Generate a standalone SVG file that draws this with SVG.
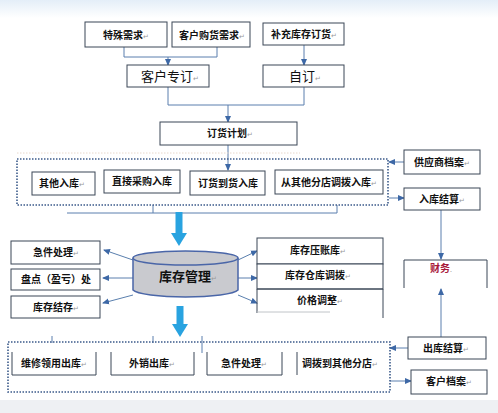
<svg xmlns="http://www.w3.org/2000/svg" width="498" height="413" viewBox="0 0 498 413">
<defs>
<style>
.box{fill:#fff;stroke:#3b4656;stroke-width:1}
.open{fill:none;stroke:#3b4656;stroke-width:1}
.t{font-family:"Noto Sans CJK SC","Noto Sans",sans-serif;font-size:10px;font-weight:bold;fill:#111;text-anchor:middle}
.big{font-size:13px;font-weight:normal}
.pm{fill:#9a9a9a;font-weight:normal;font-size:7px}
.ln{stroke:#5a7fae;fill:none;stroke-width:1}
.dot{stroke:#3b5a8a;stroke-dasharray:1.5 1.5;fill:none;stroke-width:1.6}
.thick{stroke:#29a3e0;stroke-width:7;fill:none}
</style>
<marker id="ah" markerWidth="7" markerHeight="7" refX="6" refY="3.5" orient="auto" markerUnits="userSpaceOnUse">
<path d="M0,0.5 L7,3.5 L0,6.5 Z" fill="#3d68a6"/>
</marker>
<linearGradient id="topbg" x1="0" y1="0" x2="0" y2="1">
<stop offset="0" stop-color="#e4eef8"/><stop offset="1" stop-color="#ffffff"/>
</linearGradient>
</defs>
<rect x="0" y="0" width="498" height="413" fill="#fff"/>
<rect x="0" y="0" width="498" height="18" fill="url(#topbg)"/>
<rect x="0" y="400" width="498" height="13" fill="#eef0f3"/>

<g id="connectors">
<path class="ln" d="M124,47 V57 H217 V47"/>
<path class="ln" d="M168,57 V65" marker-end="url(#ah)"/>
<path class="ln" d="M304,45 V65" marker-end="url(#ah)"/>
<path class="ln" d="M168,87 V105 H304 V87"/>
<path class="ln" d="M228,105 V122" marker-end="url(#ah)"/>
<path class="ln" d="M228,145 V170" marker-end="url(#ah)"/>
<path class="ln" d="M153,205 V213 M67,213 H337 M337,205 V213" stroke="#7a8a9a"/>
<path class="thick" d="M179,212 V234"/>
<path d="M171,233 L187,233 L179,246 Z" fill="#29a3e0"/>
<path class="thick" d="M180,306 V325"/>
<path d="M172,324 L188,324 L180,337 Z" fill="#29a3e0"/>
<path class="ln" d="M133,260 L104,250" marker-end="url(#ah)"/>
<path class="ln" d="M133,278 H103" marker-end="url(#ah)"/>
<path class="ln" d="M133,295 L103,303" marker-end="url(#ah)"/>
<path class="ln" d="M238,260 L257,251" marker-end="url(#ah)"/>
<path class="ln" d="M238,278 H257" marker-end="url(#ah)"/>
<path class="ln" d="M238,295 L257,303" marker-end="url(#ah)"/>
<path class="ln" d="M404,162 H389" marker-end="url(#ah)"/>
<path class="ln" d="M389,198 H404" marker-end="url(#ah)"/>
<path class="ln" d="M441,210 V259" stroke="#8a9aaa" marker-end="url(#ah)"/>
<path class="ln" d="M441,337 V289" stroke="#8a9aaa" marker-end="url(#ah)"/>
<path class="ln" d="M408,348 H390" marker-end="url(#ah)"/>
<path class="ln" d="M390,381 H411" marker-end="url(#ah)"/>
<path class="ln" d="M52,336 V343 M153,336 V343 M202,336 V353" stroke="#3b4656"/>
</g>

<g id="top-boxes">
<g id="n-teshu"><rect class="box" x="85" y="22" width="82" height="25"/><text class="t" x="126" y="39">特殊需求<tspan class="pm">↵</tspan></text></g>
<g id="n-kehugouhuo"><rect class="box" x="172" y="22" width="78" height="25"/><text class="t" x="212" y="39">客户购货需求<tspan class="pm">↵</tspan></text></g>
<g id="n-buchong"><rect class="box" x="263" y="23" width="81" height="22"/><text class="t" x="304" y="38">补充库存订货<tspan class="pm">↵</tspan></text></g>
<g id="n-kehuzhuanding"><rect class="box" x="127" y="65" width="82" height="22"/><text class="t big" x="170" y="81">客户专订<tspan class="pm">↵</tspan></text></g>
<g id="n-ziding"><rect class="box" x="263" y="65" width="81" height="22"/><text class="t big" x="305" y="81">自订<tspan class="pm">↵</tspan></text></g>
<g id="n-dinghuojihua"><rect class="box" x="160" y="122" width="137" height="23"/><text class="t" x="230" y="137">订货计划<tspan class="pm">↵</tspan></text></g>
</g>

<g id="inbound">
<path d="M17,153 H300" stroke="#e8d8cc" stroke-dasharray="1.5 1.5" fill="none"/>
<rect class="dot" x="17" y="159" width="371" height="46"/>
<g id="n-qitaruku"><rect class="box" x="32" y="172" width="63" height="23"/><text class="t" x="62" y="187">其他入库<tspan class="pm">↵</tspan></text></g>
<g id="n-zhijiecaigou"><rect class="box" x="104" y="170" width="76" height="23"/><text class="t" x="142" y="185">直接采购入库</text></g>
<g id="n-dinghuodaohuo"><rect class="box" x="190" y="171" width="75" height="24"/><text class="t" x="228" y="187">订货到货入库</text></g>
<g id="n-congqita"><rect class="box" x="275" y="170" width="108" height="24"/><text class="t" x="329" y="186">从其他分店调拨入库<tspan class="pm">↵</tspan></text></g>
</g>

<g id="n-gongyingshang"><rect class="box" x="404" y="150" width="76" height="24"/><text class="t" x="442" y="166">供应商档案<tspan class="pm">↵</tspan></text></g>
<g id="n-rukujiesuan"><rect class="box" x="404" y="188" width="76" height="22"/><text class="t" x="442" y="203">入库结算<tspan class="pm">↵</tspan></text></g>

<g id="n-kucunguanli">
<path d="M133,258 V290 A53,8 0 0 0 238,290 V258" fill="#c9cacf" stroke="#4a66a8" stroke-width="1.5"/>
<ellipse cx="185.5" cy="258" rx="52.5" ry="7" fill="#c9cacf" stroke="#4a66a8" stroke-width="1.5"/>
<text class="t" x="188" y="281" style="font-size:13px">库存管理<tspan class="pm">↵</tspan></text>
</g>

<g id="left-boxes">
<g id="n-jijian1"><rect class="box" x="11" y="241" width="89" height="23"/><text class="t" x="56" y="256">急件处理<tspan class="pm">↵</tspan></text></g>
<g id="n-pandian"><rect class="box" x="11" y="269" width="89" height="21"/><text class="t" x="56" y="283">盘点（盈亏）处</text></g>
<g id="n-kucunjiecun"><rect class="box" x="11" y="296" width="89" height="22"/><text class="t" x="56" y="311">库存结存<tspan class="pm">↵</tspan></text></g>
</g>

<g id="right-boxes">
<g id="n-yazhangku"><rect class="box" x="257" y="238" width="126" height="26"/><text class="t" x="318" y="254">库存压账库<tspan class="pm">↵</tspan></text></g>
<g id="n-cangkudiaobo"><rect class="box" x="257" y="264" width="126" height="25"/><text class="t" x="318" y="279">库存仓库调拨<tspan class="pm">↵</tspan></text></g>
<g id="n-jiagetiaozheng"><path class="open" d="M257,289 H383 M257,289 V313 M383,289 V318"/><path d="M257,312 H330" stroke="#c0c4c8" fill="none"/><text class="t" x="320" y="304">价格调整<tspan class="pm">↵</tspan></text></g>
</g>

<g id="n-caiwu"><path class="open" d="M404,288 V260 H487 V288"/><text class="t" x="441" y="272" style="fill:#a8183a">财务<tspan class="pm">.</tspan></text></g>
<g id="n-chukujiesuan"><rect class="box" x="408" y="337" width="78" height="22"/><text class="t" x="446" y="352">出库结算<tspan class="pm">↵</tspan></text></g>
<g id="n-kehudangan"><rect class="box" x="411" y="370" width="76" height="24"/><text class="t" x="449" y="385">客户档案<tspan class="pm">↵</tspan></text></g>

<g id="outbound">
<rect class="dot" x="8" y="342" width="382" height="50"/>
<g id="n-weixiu"><path class="open" d="M12,352 V375 H96 V352"/><text class="t" x="54" y="367">维修领用出库<tspan class="pm">↵</tspan></text></g>
<g id="n-waixiao"><path class="open" d="M111,352 V375 H194 V352"/><text class="t" x="152" y="367">外销出库<tspan class="pm">↵</tspan></text></g>
<g id="n-jijian2"><path class="open" d="M207,352 V375 H282 V352"/><text class="t" x="244" y="367">急件处理<tspan class="pm">↵</tspan></text></g>
<g id="n-diaobo"><path class="open" d="M297,352 V375"/><text class="t" x="340" y="367">调拨到其他分店<tspan class="pm">↵</tspan></text></g>
</g>
</svg>
